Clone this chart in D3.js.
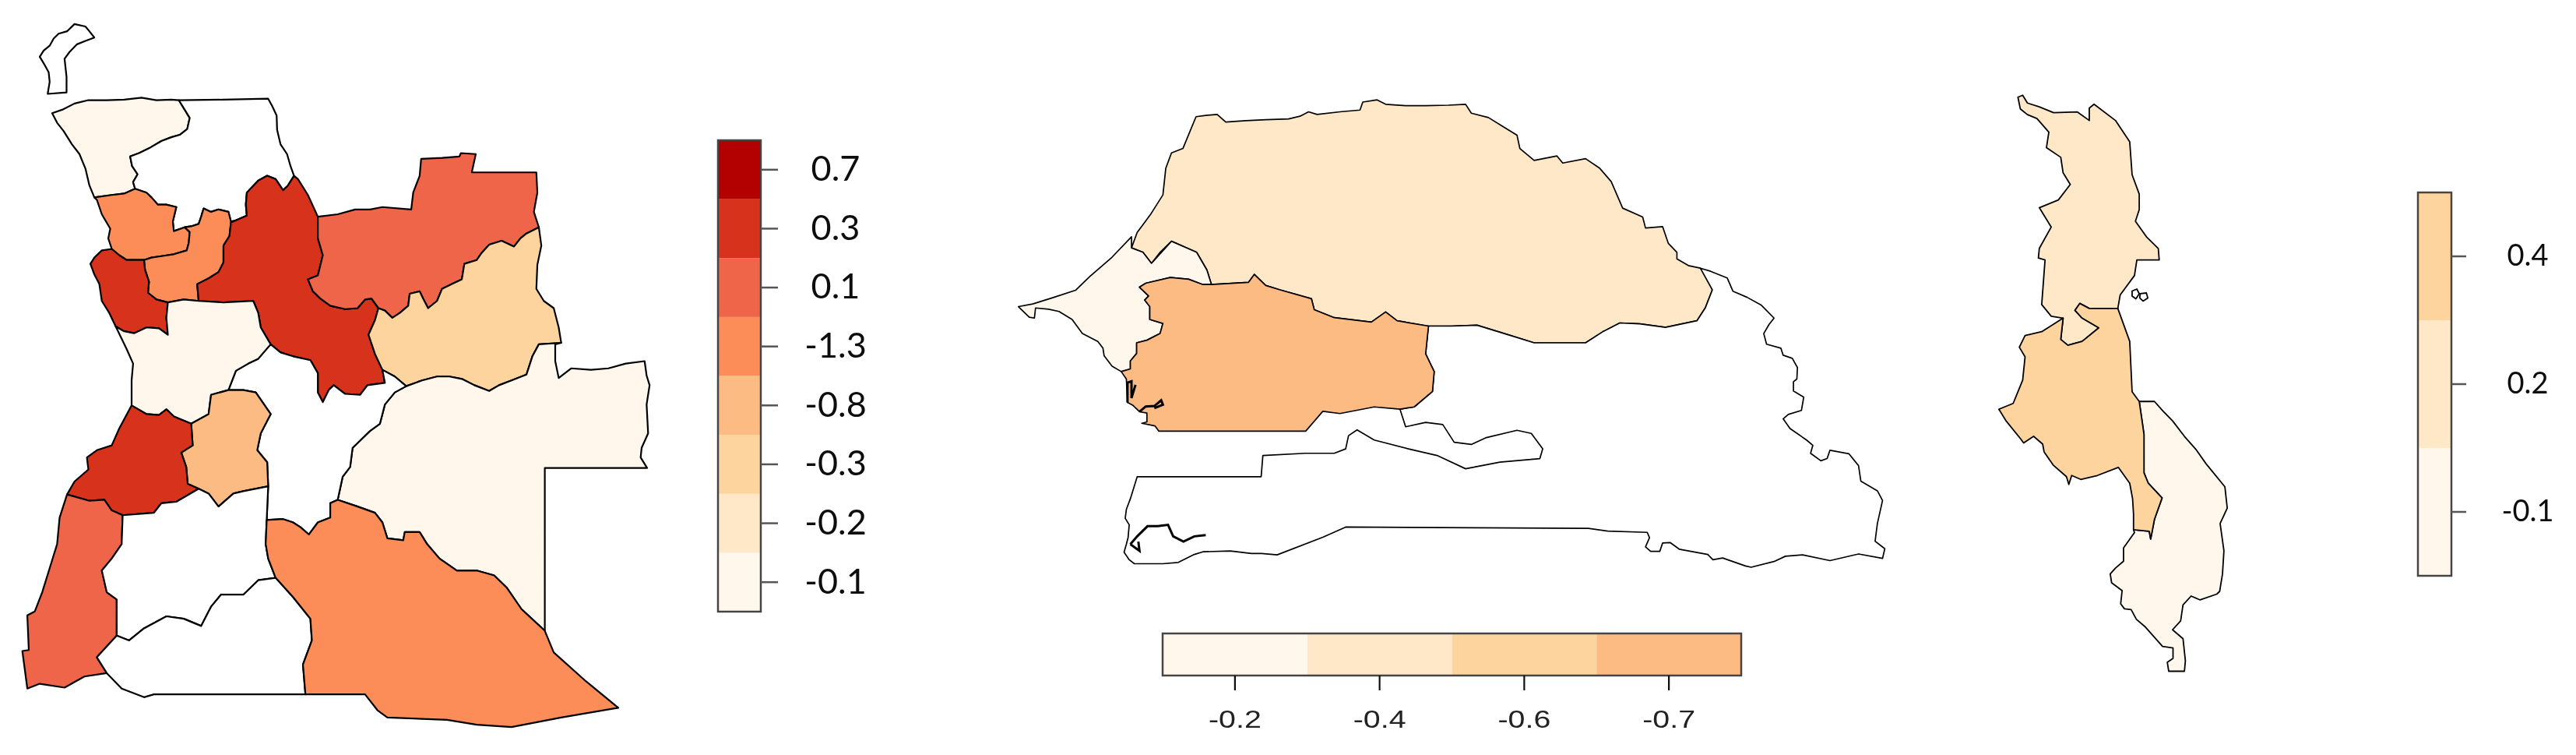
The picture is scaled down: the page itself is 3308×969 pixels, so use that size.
<!DOCTYPE html>
<html>
<head>
<meta charset="utf-8">
<script src="https://d3js.org/d3.v7.min.js"></script>
<style>
  html, body { margin: 0; background: #fff; }
</style>
</head>
<body>
<div id="chart"></div>
<script>
// legend classes, bottom to top
const angolaClasses = ["-0.1", "-0.2", "-0.3", "-0.8", "-1.3", "0.1", "0.3", "0.7"];
const senegalClasses = ["-0.2", "-0.4", "-0.6", "-0.7"];
const malawiClasses = ["-0.1", "0.2", "0.4"];
const orRd = ["#FFF7EC", "#FEE8C8", "#FDD49E", "#FDBB84", "#FC8D59", "#EF6548", "#D7301F", "#B30000"];

const rev = a => a.slice().reverse();

// Angola borders (map units 0-1568), one array per shared border
const cabindaEdge = [[80,118],[88,105],[100,95],[108,80],[118,70],[135,65],[150,50],[172,55],[180,65],[190,78],[172,85],[155,92],[140,108],[130,122],[134,160],[134,192],[96,195],[100,170],[98,150],[90,135]];
const zaireTop = [[105,235],[125,228],[150,215],[178,208],[215,208],[250,207],[285,203],[315,208],[345,207],[360,208]];
const zaireUige = [[360,208],[372,228],[382,245],[377,268],[362,280],[345,285],[325,293],[300,308],[280,318],[262,325],[266,345],[277,362],[268,378],[272,392]];
const zaireBengo = [[272,392],[250,402],[225,405],[190,410]];
const zaireCoast = [[190,410],[180,385],[172,350],[160,320],[145,300],[128,272],[115,255],[105,235]];
const uigeTop = [[360,208],[450,207],[540,205],[548,220],[557,240],[558,270],[565,300],[578,320],[585,345],[592,365]];
const uigeMalanje = [[592,365],[580,385],[570,395],[555,372],[538,365],[520,375],[497,400],[495,425],[497,448]];
const uigeCuanzaN = [[497,448],[475,458],[465,460],[460,440],[440,435],[425,440],[410,433],[405,450],[400,465],[385,470],[372,472]];
const uigeBengo = [[372,472],[350,480],[348,460],[355,430],[335,425],[318,425],[305,410],[295,400],[272,392]];
const bengoCuanzaN = [[372,472],[382,482],[380,505],[376,520],[350,528],[325,532],[305,535],[290,540]];
const bengoLuanda = [[290,540],[255,540],[240,530],[225,517]];
const bengoCoast = [[225,517],[218,495],[222,475],[205,445],[195,415],[190,410]];
const luandaCoast = [[225,517],[205,520],[190,535],[182,548],[190,570],[200,590],[205,625],[220,650],[233,678]];
const luandaSul = [[233,678],[250,688],[270,692],[295,680],[320,682],[338,695],[335,660],[338,628]];
const luandaCuanzaN = [[338,628],[315,622],[298,608],[300,585],[292,560],[290,540]];
const cuanzaNMalanje = [[497,448],[465,462],[462,490],[450,510],[450,545],[440,565],[420,578],[397,590],[400,625]];
const cuanzaNSul = [[400,625],[370,622],[338,628]];
const malanjeSul = [[400,625],[450,628],[510,625],[520,650],[525,680],[545,715]];
const malanjeBie = [[545,715],[565,732],[590,740],[625,748],[640,775],[640,815],[650,835],[662,810],[672,800],[695,818],[725,820],[740,800],[775,795],[770,768]];
const malanjeLundaS = [[770,768],[755,735],[742,695],[755,665],[762,640]];
const malanjeLundaN = [[762,640],[748,620],[735,622],[720,640],[695,642],[665,635],[645,620],[630,605],[620,580],[640,572],[650,530],[640,495],[640,450]];
const malanjeNorth = [[592,365],[600,372],[620,405],[640,450]];
const lundaNTop = [[640,450],[680,445],[715,435],[745,435],[770,430],[828,435],[832,400],[845,365],[848,330],[890,328],[925,325],[928,318],[958,320],[950,358],[1010,358],[1080,358],[1082,400],[1075,440],[1085,472]];
const lundaNS = [[1085,472],[1060,485],[1048,495],[1035,512],[1010,500],[985,508],[970,525],[960,540],[935,548],[930,580],[910,590],[890,600],[880,625],[862,640],[852,620],[845,605],[825,610],[822,635],[805,650],[790,660],[775,645],[762,640]];
const lundaSEast = [[1085,472],[1090,510],[1082,550],[1080,600],[1095,625],[1115,640],[1125,680],[1130,712]];
const lundaSMoxico = [[1130,712],[1085,715],[1072,740],[1060,778],[1030,790],[1005,800],[985,812],[955,800],[930,787],[905,782],[880,782],[850,790],[818,802]];
const lundaSBie = [[818,802],[795,782],[770,768]];
const moxicoEast = [[1130,712],[1118,715],[1118,750],[1125,785],[1150,765],[1190,768],[1225,765],[1260,755],[1298,750],[1302,780],[1308,800],[1302,840],[1305,900],[1292,930],[1290,950],[1303,972],[1200,972],[1097,972],[1097,1140],[1097,1310]];
const moxicoCubango = [[1097,1310],[1050,1265],[1020,1220],[995,1195],[960,1185],[920,1185],[885,1160],[860,1130],[845,1105],[815,1105],[812,1122],[780,1118],[770,1085],[755,1065],[720,1052],[680,1038]];
const moxicoBie = [[680,1038],[690,990],[705,970],[710,930],[745,895],[765,880],[775,840],[795,815],[818,802]];
const bieCubango = [[680,1038],[665,1045],[665,1075],[640,1085],[622,1110],[605,1095],[590,1085],[570,1078],[537,1080]];
const bieHuila = [[537,1080],[540,1010]];
const bieHuambo = [[540,1010],[538,960],[518,935],[525,900],[545,860],[525,830],[515,815],[490,810],[460,810]];
const bieSul = [[460,810],[475,770],[500,755],[520,745],[545,715]];
const sulHuambo = [[460,810],[425,820],[420,860],[385,880]];
const sulBenguela = [[385,880],[350,865],[335,850],[320,862],[295,860],[265,842]];
const sulCoast = [[265,842],[265,790],[268,755],[255,725],[233,678]];
const huamboBenguela = [[385,880],[388,925],[365,940],[375,970],[378,1005],[400,1015]];
const huamboHuila = [[400,1015],[420,1025],[440,1052],[470,1025],[490,1020],[540,1010]];
const benguelaCoast = [[265,842],[240,890],[225,925],[195,935],[175,950],[178,975],[150,1000],[135,1027]];
const benguelaNamibe = [[135,1027],[180,1040],[210,1038],[225,1060],[247,1070]];
const benguelaHuila = [[247,1070],[310,1065],[325,1045],[355,1042],[400,1015]];
const namibeCoast = [[135,1027],[120,1075],[115,1130],[100,1180],[85,1230],[70,1270],[55,1278],[58,1350],[45,1352],[55,1430],[80,1420],[130,1428],[170,1405],[215,1398]];
const namibeHuila = [[247,1070],[245,1130],[225,1160],[205,1185],[215,1230],[235,1245],[235,1320]];
const namibeCunene = [[235,1320],[195,1365],[215,1398]];
const huilaCunene = [[235,1320],[260,1330],[290,1305],[335,1280],[370,1285],[405,1300],[425,1260],[445,1235],[490,1235],[520,1205],[555,1200]];
const huilaCubango = [[555,1200],[540,1160],[535,1130],[537,1080]];
const cuneneSouth = [[215,1398],[245,1430],[290,1448],[310,1442],[615,1442]];
const cuneneCubango = [[615,1442],[610,1380],[628,1330],[625,1285],[590,1240],[555,1200]];
const cubangoSouth = [[615,1442],[735,1442],[760,1475],[780,1490],[900,1495],[960,1505],[1030,1510],[1130,1490],[1245,1470],[1180,1415],[1115,1355],[1097,1310]];

const angolaRegions = ["Cabinda", "Zaire", "Uige", "Bengo", "CuanzaNorte", "Luanda", "Malanje", "LundaNorte", "LundaSul", "Moxico", "Bie", "CuanzaSul", "Huambo", "Benguela", "Namibe", "Huila", "Cunene", "CuandoCubango"];
// class of each province (null = no data, left white)
const angolaValues = [null, "-0.1", null, "-1.3", "-1.3", "0.3", "0.3", "0.1", "-0.3", "-0.1", null, "-0.1", "-0.8", "0.3", "0.1", null, null, "-1.3"];
const angolaShapes = [
  cabindaEdge,
  [...zaireTop, ...zaireUige, ...zaireBengo, ...zaireCoast],
  [...uigeTop, ...uigeMalanje, ...uigeCuanzaN, ...uigeBengo, ...rev(zaireUige)],
  [...rev(zaireBengo), ...rev(uigeBengo), ...bengoCuanzaN, ...bengoLuanda, ...bengoCoast],
  [...rev(bengoCuanzaN), ...rev(uigeCuanzaN), ...cuanzaNMalanje, ...cuanzaNSul, ...luandaCuanzaN],
  [...rev(bengoLuanda), ...rev(luandaCuanzaN), ...rev(luandaSul), ...rev(luandaCoast)],
  [...rev(uigeMalanje), ...malanjeNorth, ...rev(malanjeLundaN), ...rev(malanjeLundaS), ...rev(malanjeBie), ...rev(malanjeSul), ...rev(cuanzaNMalanje)],
  [...lundaNTop, ...lundaNS, ...malanjeLundaN],
  [...lundaSEast, ...lundaSMoxico, ...lundaSBie, ...malanjeLundaS, ...rev(lundaNS)],
  [...moxicoEast, ...moxicoCubango, ...moxicoBie, ...rev(lundaSMoxico)],
  [...malanjeBie, ...rev(lundaSBie), ...rev(moxicoBie), ...bieCubango, ...bieHuila, ...bieHuambo, ...bieSul],
  [...malanjeSul, ...rev(bieSul), ...sulHuambo, ...sulBenguela, ...sulCoast, ...luandaSul, ...rev(cuanzaNSul)],
  [...sulHuambo, ...huamboBenguela, ...huamboHuila, ...bieHuambo],
  [...rev(sulBenguela), ...huamboBenguela, ...rev(benguelaHuila), ...rev(benguelaNamibe), ...rev(benguelaCoast)],
  [...benguelaNamibe, ...namibeHuila, ...namibeCunene, ...rev(namibeCoast)],
  [...rev(benguelaHuila), ...namibeHuila, ...huilaCunene, ...huilaCubango, ...bieHuila, ...rev(huamboHuila)],
  [...rev(namibeCunene), ...huilaCunene, ...rev(cuneneCubango), ...rev(cuneneSouth)],
  [...rev(bieCubango), ...rev(moxicoCubango), ...rev(cubangoSouth), ...cuneneCubango, ...huilaCubango]
];

// Senegal
const SenNorth = [[458,123],[475,120],[495,118],[510,135],[545,132],[580,130],[620,128],[640,122],[655,112],[670,118],[710,112],[745,108],[750,90],[775,85],[790,95],[825,98],[860,98],[900,97],[930,95],[940,115],[970,125],[995,145],[1020,165],[1025,195],[1050,222],[1090,212],[1100,228],[1140,218],[1165,240],[1185,270],[1205,330],[1240,350],[1245,375],[1275,372],[1285,410],[1300,430],[1300,445],[1320,460],[1341,466],[1355,490],[1362,515],[1350,555],[1335,585],[1280,600],[1235,592],[1200,590],[1170,610],[1140,635],[1050,635],[1000,615],[950,595],[905,597],[865,597],[810,585],[790,565],[765,588],[700,578],[665,560],[660,535],[605,515],[580,505],[560,480],[550,498],[485,503],[477,470],[459,430],[438,418],[415,405],[395,430],[380,455],[365,430],[345,420],[355,385],[378,345],[400,300],[405,240],[415,205],[435,195]];
const SenWest = [[147,553],[172,547],[209,532],[247,516],[272,485],[311,441],[345,395],[345,420],[365,430],[380,455],[415,405],[459,430],[477,470],[485,503],[470,503],[445,491],[413,487],[370,500],[359,509],[375,529],[368,538],[377,553],[377,582],[400,591],[395,614],[372,629],[354,635],[354,659],[343,676],[343,694],[327,700],[311,688],[297,664],[295,647],[286,632],[259,614],[241,582],[218,564],[200,559],[177,556],[175,579],[166,577]];
const SenCentre = [[359,509],[370,500],[413,487],[445,491],[470,503],[485,503],[550,498],[560,480],[580,505],[605,515],[660,535],[665,560],[700,578],[765,588],[790,565],[810,585],[865,597],[860,660],[875,700],[872,745],[840,780],[815,785],[770,780],[710,795],[680,790],[650,835],[393,835],[386,823],[363,817],[372,814],[372,794],[359,791],[347,776],[338,770],[336,717],[327,700],[343,694],[343,676],[354,659],[354,635],[372,629],[395,614],[400,591],[377,582],[377,553],[368,538],[375,529]];
const SenSouth = [[865,597],[905,597],[950,595],[1000,615],[1050,635],[1140,635],[1170,610],[1200,590],[1235,592],[1280,600],[1335,585],[1350,555],[1362,515],[1341,466],[1359,473],[1388,488],[1398,518],[1423,532],[1448,550],[1470,579],[1461,594],[1452,614],[1457,638],[1482,647],[1486,663],[1502,670],[1511,691],[1510,717],[1504,723],[1504,744],[1522,758],[1518,788],[1495,797],[1486,807],[1498,829],[1527,855],[1538,867],[1534,885],[1552,902],[1563,897],[1568,878],[1601,886],[1618,913],[1622,948],[1651,970],[1660,992],[1651,1044],[1647,1084],[1664,1101],[1660,1123],[1618,1113],[1568,1128],[1520,1115],[1490,1118],[1470,1130],[1430,1143],[1420,1140],[1380,1122],[1363,1126],[1354,1114],[1304,1102],[1288,1087],[1275,1088],[1270,1107],[1254,1107],[1245,1097],[1252,1076],[1248,1064],[1179,1061],[1145,1055],[720,1052],[680,1075],[600,1115],[573,1112],[555,1112],[518,1106],[470,1108],[455,1114],[427,1132],[400,1135],[350,1135],[341,1126],[332,1109],[336,1091],[339,1076],[341,1047],[334,1032],[336,1012],[343,988],[355,938],[572,938],[575,890],[650,885],[700,885],[720,875],[725,845],[740,832],[770,855],[830,875],[880,890],[930,920],[990,905],[1060,897],[1065,875],[1045,840],[1020,833],[965,850],[940,865],[910,860],[890,820],[860,815],[825,825],[815,785],[840,780],[872,745],[875,700],[860,660]];
// inlets drawn as open lines
const senCreekA = [[338,770],[338,725],[345,722],[345,760],[352,730]];
const senCreekB = [[359,791],[370,779],[385,778],[397,765],[400,775],[385,783]];
const senCreekC = [[343,1091],[355,1073],[373,1050],[391,1050],[409,1047],[418,1073],[436,1085],[455,1073],[475,1070]];
const senCreekD = [[343,1091],[359,1106],[357,1085]];

// Malawi
const MalNorth = [[395,90],[405,85],[415,105],[440,115],[470,130],[520,128],[545,150],[545,118],[555,108],[600,150],[630,205],[635,290],[650,340],[650,380],[642,410],[665,450],[690,480],[692,510],[645,510],[640,550],[610,600],[605,635],[545,635],[525,622],[515,640],[530,660],[565,685],[530,720],[500,730],[485,715],[490,660],[465,655],[445,625],[452,510],[438,505],[440,480],[465,425],[450,395],[440,375],[480,355],[505,315],[490,285],[485,245],[455,220],[460,180],[435,145],[415,135],[400,120]];
const MalCentral = [[605,635],[630,720],[635,850],[650,875],[660,960],[660,1059],[669,1086],[698,1124],[682,1179],[674,1230],[671,1210],[638,1206],[638,1166],[636,1126],[630,1086],[606,1045],[562,1066],[527,1076],[508,1066],[502,1089],[497,1069],[469,1039],[450,1005],[447,985],[428,965],[407,982],[401,972],[370,925],[355,895],[385,880],[405,820],[410,760],[398,735],[410,705],[445,695],[490,660],[485,715],[500,730],[530,720],[565,685],[530,660],[515,640],[525,622],[545,635]];
const MalSouth = [[650,875],[682,875],[700,900],[720,925],[745,965],[770,1000],[790,1035],[830,1095],[835,1150],[820,1190],[828,1260],[825,1320],[819,1365],[813,1372],[778,1387],[759,1377],[742,1400],[737,1441],[720,1464],[742,1487],[747,1544],[745,1571],[712,1571],[709,1548],[721,1538],[721,1511],[699,1507],[663,1457],[644,1437],[633,1412],[619,1410],[611,1397],[614,1363],[592,1343],[589,1320],[600,1305],[617,1287],[617,1253],[640,1213],[638,1206],[671,1210],[674,1230],[682,1179],[698,1124],[669,1086],[660,1059],[660,960]];
const MalIslandA = [[635,590],[645,585],[650,597],[643,610],[635,603]];
const MalIslandB = [[652,597],[665,595],[668,608],[658,616],[651,608]];

const senegalShapes = [SenNorth, SenWest, SenSouth, SenCentre];
const senegalShapeValues = ["-0.4", "-0.2", null, "-0.7"];
const senegalLines = [senCreekA, senCreekB, senCreekC, senCreekD];
const malawiShapes = [MalNorth, MalSouth, MalCentral, MalIslandA, MalIslandB];
const malawiShapeValues = ["0.2", "-0.1", "0.4", null, null];

const svg = d3.select("#chart").append("svg")
  .attr("width", 3308)
  .attr("height", 969);

svg.append("rect").attr("width", 3308).attr("height", 969).attr("fill", "#fff");

// the reference is a soft upscaled raster
svg.append("filter").attr("id", "soft")
  .attr("x", 0).attr("y", 0).attr("width", 3308).attr("height", 969)
  .attr("filterUnits", "userSpaceOnUse")
  .append("feGaussianBlur").attr("stdDeviation", 0.7);
const root = svg.append("g").attr("filter", "url(#soft)");

function drawMap(shapes, values, color, xRange, yRange, strokeWidth) {
  const x = d3.scaleLinear().domain([0, 1568]).range(xRange);
  const y = d3.scaleLinear().domain([0, 1568]).range(yRange);
  const closed = d3.line().x(d => x(d[0])).y(d => y(d[1])).curve(d3.curveLinearClosed);
  const g = root.append("g");
  g.selectAll("path")
    .data(shapes)
    .enter()
    .append("path")
    .attr("d", closed)
    .attr("fill", (d, i) => values[i] === null ? "#fff" : color(values[i]))
    .attr("stroke", "#000")
    .attr("stroke-width", strokeWidth)
    .attr("stroke-linejoin", "round");
  return {g, x, y};
}

const angolaColor = d3.scaleOrdinal().domain(angolaClasses).range(orRd);
const senegalColor = d3.scaleOrdinal().domain(senegalClasses).range(orRd);
const malawiColor = d3.scaleOrdinal().domain(malawiClasses).range(orRd);

drawMap(angolaShapes, angolaValues, angolaColor, [0, 1000], [0, 969], 2.2);
const sen = drawMap(senegalShapes, senegalShapeValues, senegalColor, [1200, 2350], [80, 969], 1.7);
const creek = d3.line().x(d => sen.x(d[0])).y(d => sen.y(d[1]));
sen.g.selectAll("path.creek")
  .data(senegalLines)
  .enter()
  .append("path")
  .attr("class", "creek")
  .attr("d", creek)
  .attr("fill", "none")
  .attr("stroke", "#000")
  .attr("stroke-width", 3);
drawMap(malawiShapes, malawiShapeValues, malawiColor, [2350, 3308], [80, 860], 1.8);

// vertical legends
function verticalLegend(classes, color, xPos, yRange, tickLen, padding, fontSize) {
  const band = d3.scaleBand().domain(classes).range(yRange);
  const g = root.append("g");
  g.selectAll("rect")
    .data(classes)
    .enter()
    .append("rect")
    .attr("x", xPos[0])
    .attr("y", d => band(d))
    .attr("width", xPos[1] - xPos[0])
    .attr("height", band.bandwidth())
    .attr("fill", d => color(d));
  g.append("rect")
    .attr("x", xPos[0])
    .attr("y", yRange[1])
    .attr("width", xPos[1] - xPos[0])
    .attr("height", yRange[0] - yRange[1])
    .attr("fill", "none")
    .attr("stroke", "#444")
    .attr("stroke-width", 2.5);
  const axis = g.append("g")
    .attr("transform", `translate(${xPos[1]},0)`)
    .call(d3.axisRight(band).tickSize(tickLen).tickPadding(padding));
  axis.select(".domain").remove();
  axis.selectAll("line").attr("stroke", "#555").attr("stroke-width", 2.5);
  axis.selectAll("text")
    .attr("text-anchor", "middle")
    .attr("font-family", "Lato")
    .attr("font-size", fontSize)
    .attr("fill", "#111");
  return axis;
}

verticalLegend(angolaClasses, angolaColor, [922, 977], [785, 180], 22, 74, 45);
verticalLegend(malawiClasses, malawiColor, [3105, 3148], [739, 247], 19, 79, 38);

// horizontal legend under Senegal
const senBand = d3.scaleBand().domain(senegalClasses).range([1493, 2236]);
const senLegend = root.append("g");
senLegend.selectAll("rect")
  .data(senegalClasses)
  .enter()
  .append("rect")
  .attr("x", d => senBand(d))
  .attr("y", 813)
  .attr("width", senBand.bandwidth())
  .attr("height", 54)
  .attr("fill", d => senegalColor(d));
senLegend.append("rect")
  .attr("x", 1493).attr("y", 813)
  .attr("width", 743).attr("height", 54)
  .attr("fill", "none")
  .attr("stroke", "#444")
  .attr("stroke-width", 2.5);
const senAxis = senLegend.append("g")
  .attr("transform", "translate(0,867)")
  .call(d3.axisBottom(senBand).tickSize(19).tickPadding(0));
senAxis.select(".domain").remove();
senAxis.selectAll("line").attr("stroke", "#111").attr("stroke-width", 2.2);
senAxis.selectAll("text")
  .attr("font-family", "Liberation Sans")
  .attr("font-size", 31)
  .attr("fill", "#222")
  .attr("dy", null)
  .attr("y", 67)
  .attr("transform", "scale(1.27,1)");
</script>
</body>
</html>
